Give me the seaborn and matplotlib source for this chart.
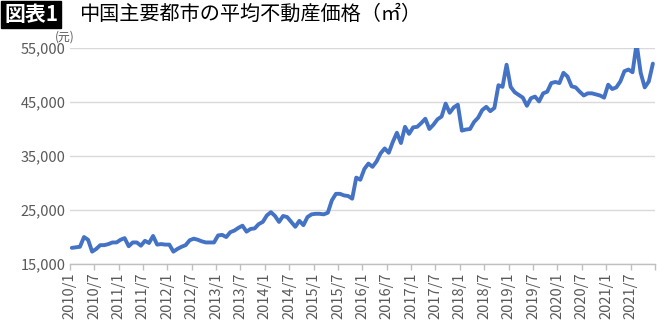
import numpy as np
import pandas as pd
import matplotlib
matplotlib.use("Agg")
import matplotlib.pyplot as plt
import seaborn as sns

# Monthly average price (yuan per m2), 2010/1 .. 2021/12
prices = [
    18000, 18100, 18200, 20000, 19500, 17300, 17800, 18500, 18500, 18700, 19000, 19000,
    19500, 19800, 18300, 19000, 19000, 18400, 19300, 18900, 20200, 18600, 18700, 18600,
    18600, 17300, 17800, 18200, 18500, 19400, 19700, 19500, 19200, 19000, 19000, 19000,
    20300, 20400, 20000, 20900, 21200, 21700, 22100, 21000, 21500, 21600, 22400, 22800,
    24000, 24600, 23900, 22800, 23900, 23700, 22800, 21900, 23000, 22200, 23700, 24200,
    24300, 24300, 24200, 24500, 26800, 28000, 28000, 27700, 27600, 27100, 31000, 30600,
    32600, 33600, 33000, 34000, 35500, 36400, 35600, 37600, 39300, 37400, 40400, 39100,
    40300, 40400, 41100, 41900, 40000, 40800, 41800, 42300, 44700, 43000, 44000, 44500,
    39700, 39900, 40000, 41300, 42100, 43500, 44100, 43300, 43900, 48100, 47800, 51900,
    47800, 46800, 46300, 45800, 44300, 45700, 46000, 45100, 46600, 46900, 48500, 48700,
    48500, 50400, 49700, 47900, 47700, 46900, 46200, 46600, 46600, 46400, 46200, 45800,
    48200, 47400, 47700, 48800, 50700, 51000, 50500, 55800, 50400, 47700, 48800, 52100,
]
years = list(range(2010, 2022))
months = [f"{y}/{m}" for y in years for m in range(1, 13)]
tick_labels = [f"{y}/{m}" for y in years for m in (1, 7)]
y_ticks = [15000, 25000, 35000, 45000, 55000]
title_box = "図表1"
title_text = "中国主要都市の平均不動産価格（㎡）"
unit_label = "(元)"

df = pd.DataFrame({"idx": np.arange(len(prices)), "month": months, "price": prices})

sns.set_theme(style="white")
plt.rcParams["font.family"] = ["Noto Sans CJK JP", "DejaVu Sans"]

fig = plt.figure(figsize=(6.71, 3.24), dpi=100)
ax = fig.add_axes([0.104, 0.185, 0.872, 0.667])

sns.lineplot(data=df, x="idx", y="price", ax=ax, color="#4472C4", linewidth=2.8)

ax.set_xlim(-0.5, len(prices) - 0.5)
ax.set_ylim(15000, 55000)
ax.set_yticks(y_ticks)
ax.set_yticklabels([f"{v:,}" for v in y_ticks], color="#595959", fontsize=10.5)
ax.yaxis.grid(True, color="#D9D9D9", linewidth=1)
ax.set_axisbelow(True)

tick_pos = [-0.5 + 6 * k for k in range(len(tick_labels))]
ax.set_xticks(tick_pos + [len(prices) - 0.5])
ax.set_xticklabels(tick_labels + [""], rotation=90, color="#595959", fontsize=10.5)
ax.tick_params(axis="x", length=4, width=1, color="#BFBFBF", bottom=True, pad=2)
ax.tick_params(axis="y", length=0, pad=3)

for s in ("top", "right", "left"):
    ax.spines[s].set_visible(False)
ax.spines["bottom"].set_color("#BFBFBF")
ax.spines["bottom"].set_linewidth(1)
ax.set_xlabel("")
ax.set_ylabel("")

# Title
fig.text(0.006, 0.955, title_box, color="white", fontsize=15, fontweight="bold",
         va="center", ha="left",
         bbox=dict(boxstyle="square,pad=0.15", facecolor="black", edgecolor="black"))
fig.text(0.118, 0.955, title_text, color="black", fontsize=14.5, va="center", ha="left")
fig.text(0.082, 0.885, unit_label, color="#595959", fontsize=8.5, va="center", ha="left")

fig.savefig("out.png", dpi=100, facecolor="white")
